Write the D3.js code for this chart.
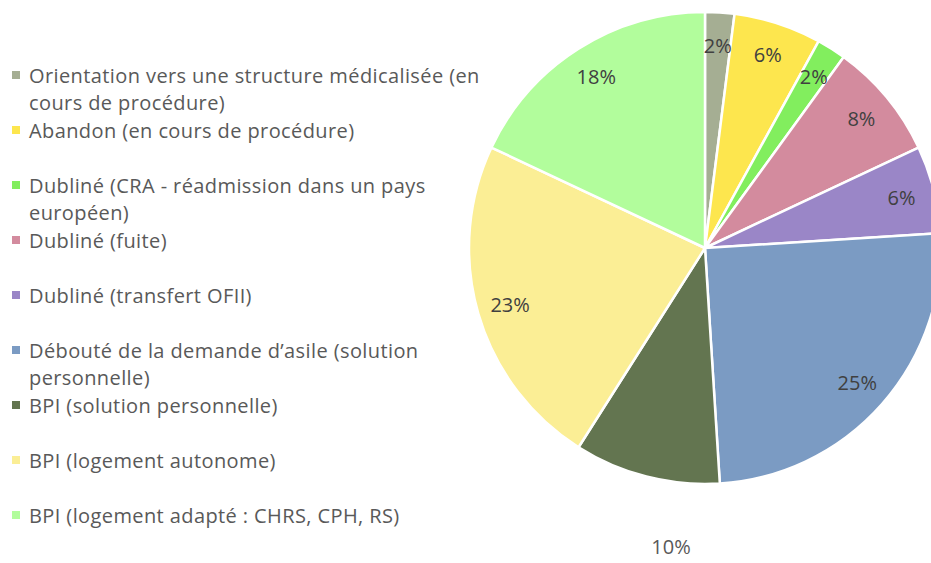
<!DOCTYPE html>
<html><head><meta charset="utf-8">
<script src="https://cdn.jsdelivr.net/npm/d3@7"></script>
<style>html,body{margin:0;padding:0;background:#fff;}svg{display:block;}</style>
</head><body>
<svg id="chart" width="931" height="563"></svg>
<script>
const categories = [
  "Orientation vers une structure médicalisée (en cours de procédure)",
  "Abandon (en cours de procédure)",
  "Dubliné (CRA - réadmission dans un pays européen)",
  "Dubliné (fuite)",
  "Dubliné (transfert OFII)",
  "Débouté de la demande d’asile (solution personnelle)",
  "BPI (solution personnelle)",
  "BPI (logement autonome)",
  "BPI (logement adapté : CHRS, CPH, RS)"
];
const legendLines = [
  ["Orientation vers une structure médicalisée (en", "cours de procédure)"],
  ["Abandon (en cours de procédure)"],
  ["Dubliné (CRA - réadmission dans un pays", "européen)"],
  ["Dubliné (fuite)"],
  ["Dubliné (transfert OFII)"],
  ["Débouté de la demande d’asile (solution", "personnelle)"],
  ["BPI (solution personnelle)"],
  ["BPI (logement autonome)"],
  ["BPI (logement adapté : CHRS, CPH, RS)"]
];
const values = [2, 6, 2, 8, 6, 25, 10, 23, 18];
const colors = ["#a5ae93", "#fde64e", "#82ee5e", "#d38b9e", "#9a86c7", "#7b9bc3", "#637550", "#fbee95", "#b2fd9c"];

const svg = d3.select("#chart");
const cx = 705, cy = 248, R = 236;
const g = svg.append("g").attr("transform", `translate(${cx},${cy})`);

const pie = d3.pie().sort(null).value(d => d);
const arcs = pie(values);
const arc = d3.arc().innerRadius(0).outerRadius(R);
const labelArc = d3.arc().innerRadius(R * 0.86).outerRadius(R * 0.86);

g.selectAll("path").data(arcs).enter().append("path")
  .attr("d", arc)
  .attr("fill", (d, i) => colors[i])
  .attr("stroke", "#fff")
  .attr("stroke-width", 2.5)
  .attr("stroke-linejoin", "round");

// labels: the 10% label sits outside below the pie in the original
g.selectAll("text.lbl").data(arcs).enter().append("text")
  .attr("class", "lbl")
  .attr("transform", (d, i) => {
    if (i === 6) {
      const a = d.startAngle + (d.endAngle - d.startAngle) * 0.28;
      const r = R * 1.275;
      return `translate(${r * Math.sin(a)},${-r * Math.cos(a)})`;
    }
    return `translate(${labelArc.centroid(d)})`;
  })
  .attr("text-anchor", "middle")
  .attr("dominant-baseline", "central")
  .attr("font-family", "'Open Sans', sans-serif")
  .attr("font-size", 20)
  .attr("fill", (d, i) => i === 6 ? "#595959" : "#404040")
  .text(d => d.data + "%");

// legend
const leg = svg.append("g").attr("transform", "translate(12,0)");
const y0 = 75, pitch = 55, lineH = 27;
legendLines.forEach((lines, i) => {
  const y = y0 + i * pitch;
  leg.append("rect").attr("x", 0).attr("y", y - 4).attr("width", 8).attr("height", 8).attr("fill", colors[i]);
  lines.forEach((t, j) => {
    leg.append("text").attr("x", 17).attr("y", y + j * lineH)
      .attr("dominant-baseline", "central")
      .attr("font-family", "'Open Sans', sans-serif")
      .attr("font-size", 20)
      .attr("letter-spacing", 0.4)
      .attr("fill", "#595959")
      .text(t);
  });
});
</script>
</body></html>
